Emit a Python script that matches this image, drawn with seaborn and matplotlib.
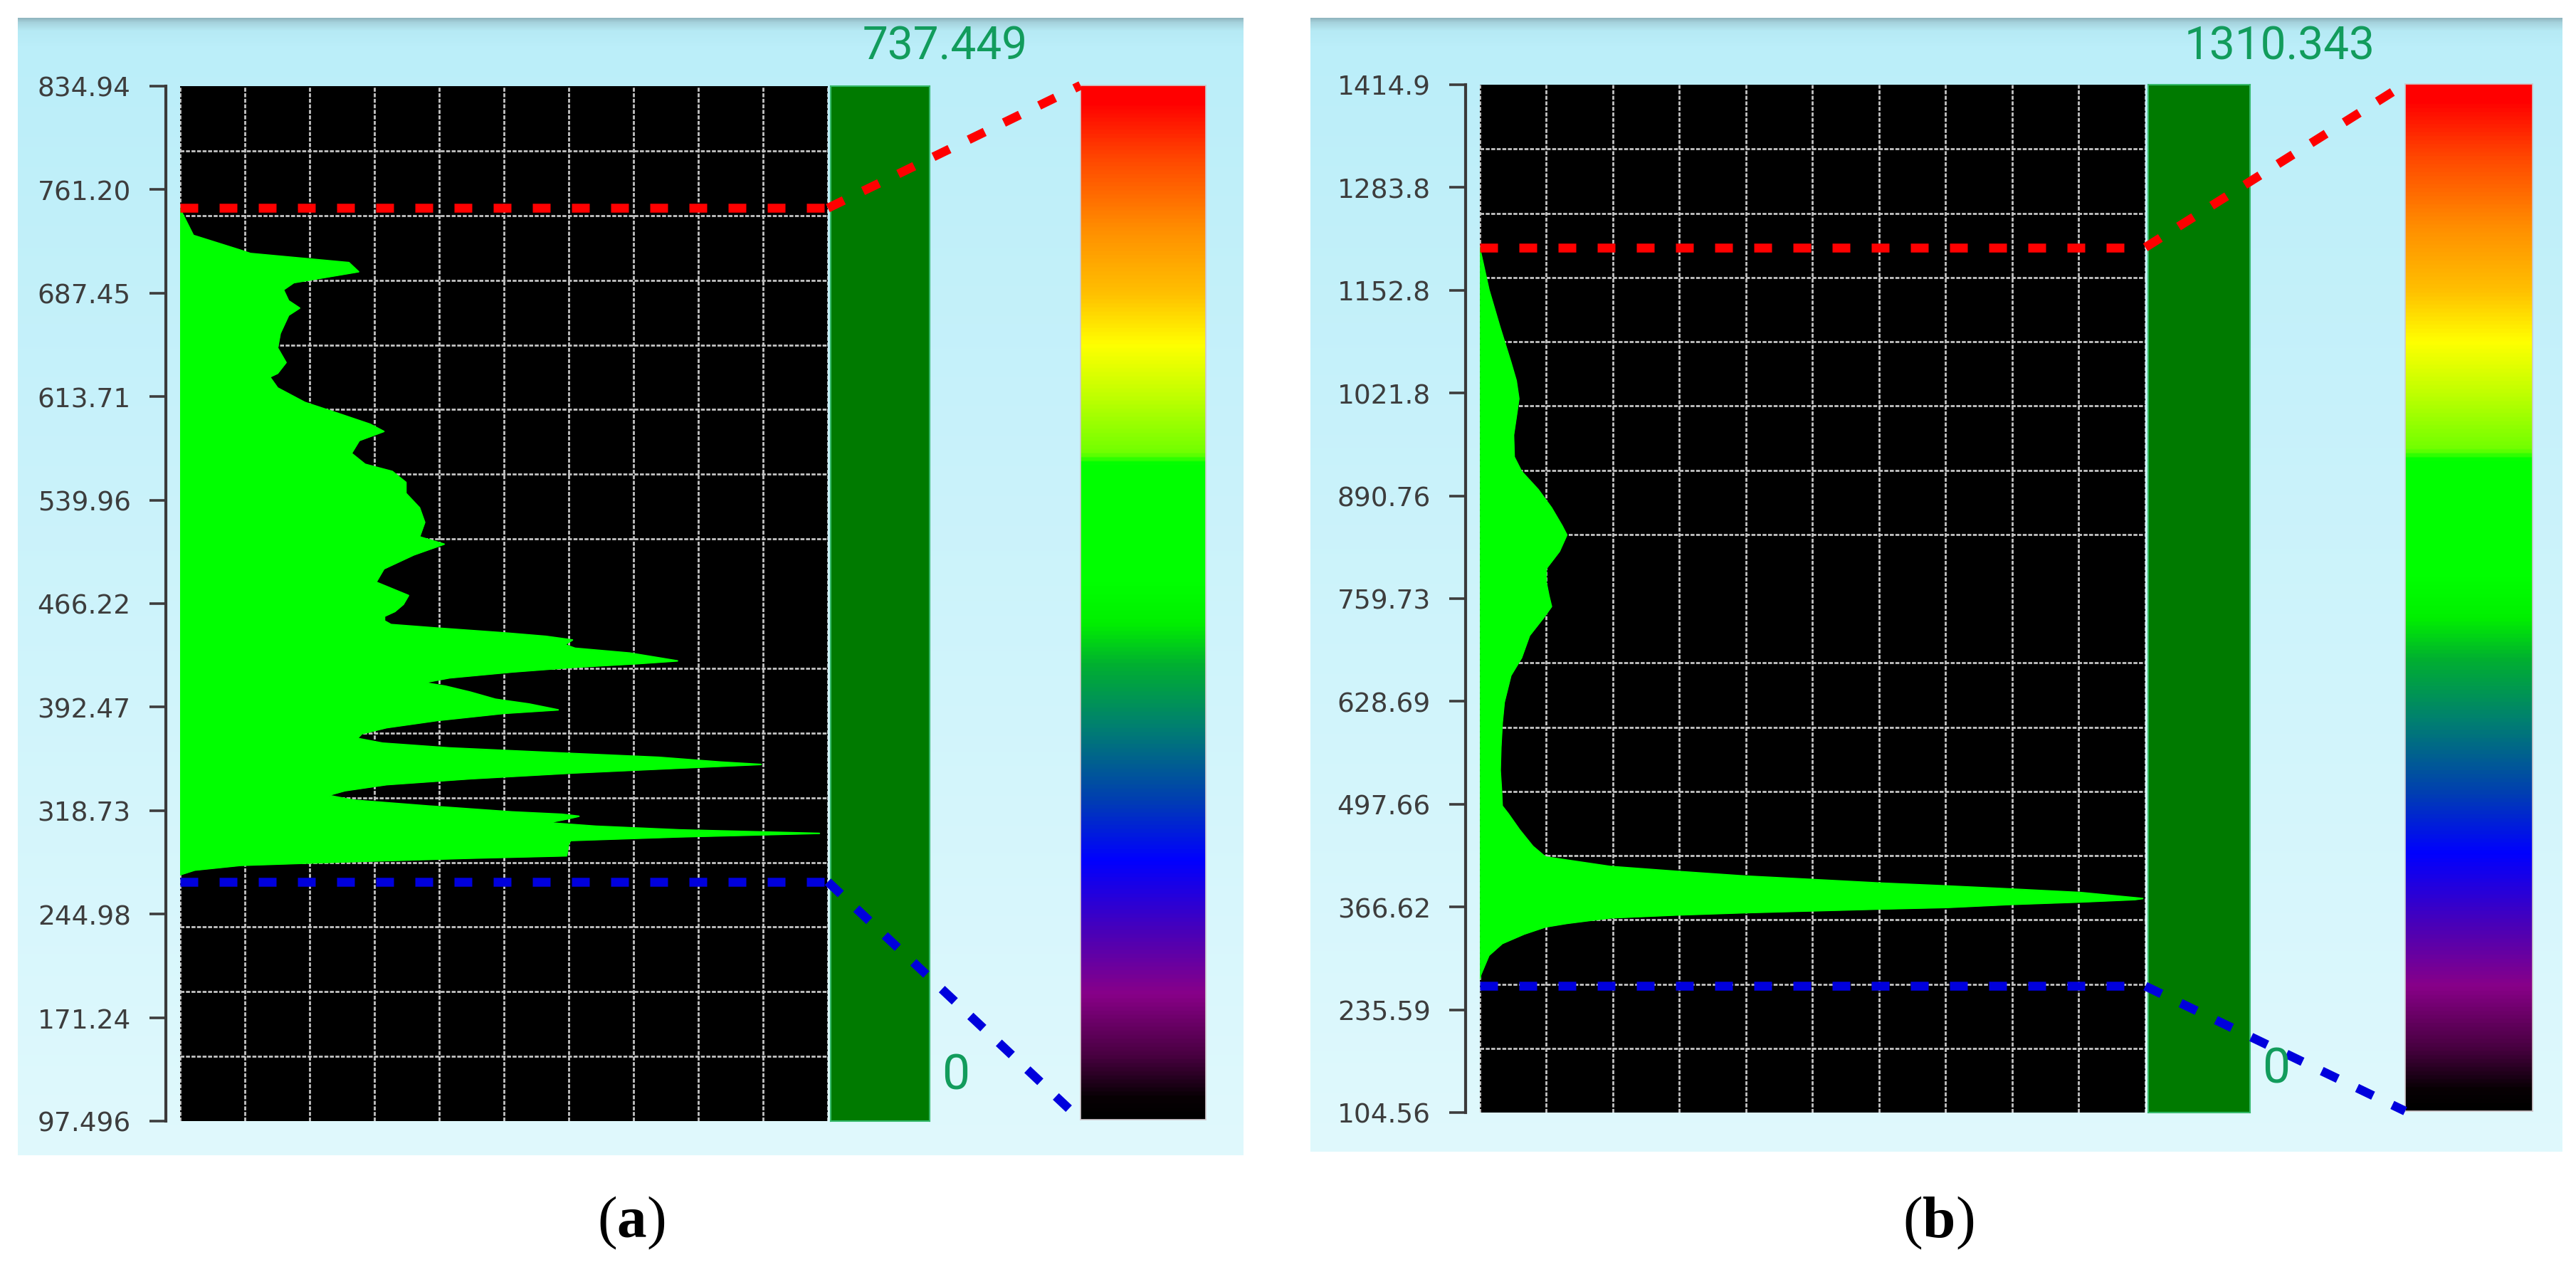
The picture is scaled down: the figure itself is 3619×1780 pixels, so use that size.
import numpy as np
import matplotlib
matplotlib.use("Agg")
import matplotlib.pyplot as plt
import seaborn as sns
from matplotlib.colors import LinearSegmentedColormap, to_rgb
from matplotlib.lines import Line2D

# --- panel (a): profile (depth, green extent 0-100) ---
a_depth = [748.0, 744.2, 728.6, 718.3, 715.7, 709.2, 702.7, 694.9, 689.8, 682.0,
           676.8, 671.7, 658.7, 648.4, 638.0, 630.3, 627.7, 619.9, 609.6, 601.8,
           594.0, 588.9, 582.4, 573.3, 565.5, 560.4, 552.6, 544.8, 534.5, 524.1,
           513.8, 508.6, 500.9, 491.0, 481.5, 472.0, 465.7, 460.6, 457.2, 453.9,
           451.3, 448.8, 445.4, 442.9, 440.3, 437.0, 434.4, 431.0, 427.6, 425.4,
           423.4, 420.9, 417.5, 413.3, 409.9, 407.4, 403.2, 398.1, 394.7, 390.5,
           388.0, 382.9, 377.8, 373.5, 370.2, 366.8, 363.4, 360.0, 356.7, 353.3,
           351.6, 349.0, 345.6, 341.4, 337.2, 332.9, 329.6, 326.2, 322.0, 317.8,
           316.1, 314.7, 312.7, 310.1, 307.6, 305.0, 302.5, 300.0, 297.4, 294.9,
           286.5, 284.8, 282.2, 279.7, 276.3, 272.9]
a_count = [0.0, 0.4, 2.1, 9.2, 10.9, 26.1, 27.6, 17.6, 16.0, 16.8,
           18.5, 16.8, 15.5, 15.1, 16.4, 15.1, 13.9, 15.1, 19.3, 24.4,
           29.4, 31.5, 27.7, 26.5, 28.6, 32.8, 34.9, 34.9, 37.0, 37.8,
           37.0, 40.8, 36.1, 31.5, 30.3, 35.3, 34.5, 33.2, 31.6, 31.6,
           32.6, 39.7, 50.0, 56.5, 60.6, 59.4, 61.0, 69.4, 73.9, 76.8,
           70.6, 61.0, 51.3, 41.6, 37.7, 41.0, 44.8, 48.7, 53.9, 58.4,
           50.0, 39.7, 31.9, 28.1, 27.4, 31.3, 41.6, 57.7, 73.9, 83.5,
           89.7, 77.1, 61.0, 44.8, 31.9, 25.5, 22.9, 26.8, 38.4, 51.3,
           59.0, 61.6, 59.7, 56.8, 64.2, 77.1, 98.7, 77.1, 60.3, 60.0,
           59.7, 44.8, 25.5, 9.4, 2.3, 0.0]
a_ticks = [834.94, 761.20, 687.45, 613.71, 539.96, 466.22, 392.47, 318.73,
           244.98, 171.24, 97.496]
a_tick_labels = ["834.94", "761.20", "687.45", "613.71", "539.96", "466.22",
                 "392.47", "318.73", "244.98", "171.24", "97.496"]
a_upper = 748.0
a_lower = 268.0
a_max_text = "737.449"
a_min_text = "0"

# --- panel (b) ---
b_depth = [1207.5, 1199.8, 1153.6, 1107.3, 1061.0, 1037.7, 1014.6, 991.4, 968.3,
           940.4, 921.9, 898.8, 875.6, 852.5, 840.9, 820.1, 797.9, 780.8, 763.8,
           749.6, 735.4, 712.7, 684.3, 661.8, 627.6, 601.3, 570.8, 540.8, 514.0,
           495.4, 485.6, 465.1, 444.0, 430.4, 418.3, 412.2, 406.1, 401.6, 397.1,
           393.4, 389.5, 385.0, 378.4, 377.4, 376.0, 373.0, 369.9, 366.0, 364.0,
           361.7, 359.3, 356.3, 352.7, 345.7, 341.2, 332.1, 320.0, 304.9, 280.6,
           274.6]
b_count = [0.0, 0.2, 1.4, 3.0, 4.7, 5.5, 5.9, 5.5, 5.1,
           5.2, 6.3, 8.8, 10.8, 12.4, 13.1, 12.0, 10.0, 10.0, 10.4,
           10.8, 9.6, 7.5, 6.3, 4.7, 3.7, 3.4, 3.2, 3.1, 3.3,
           3.4, 4.3, 6.0, 8.0, 9.9, 19.6, 29.3, 39.7, 50.1, 60.1,
           70.2, 79.9, 90.3, 98.4, 99.6, 98.4, 90.3, 79.9, 70.2, 60.1,
           50.1, 39.7, 29.3, 19.6, 13.1, 9.9, 6.7, 3.4, 1.4, 0.2,
           0.0]
b_ticks = [1414.9, 1283.8, 1152.8, 1021.8, 890.76, 759.73, 628.69, 497.66,
           366.62, 235.59, 104.56]
b_tick_labels = ["1414.9", "1283.8", "1152.8", "1021.8", "890.76", "759.73",
                 "628.69", "497.66", "366.62", "235.59", "104.56"]
b_upper = 1207.5
b_lower = 265.7
b_max_text = "1310.343"
b_min_text = "0"

# colour scale stops, bottom (0) to top (1)
scale_pos = [0.0, 0.02, 0.06, 0.12, 0.18, 0.25, 0.31, 0.38, 0.44, 0.48, 0.52,
             0.635, 0.645, 0.70, 0.75, 0.80, 0.86, 0.93, 0.985, 1.0]
scale_colors = ["#000000", "#080004", "#480040", "#880088", "#4a00b8", "#0000ff",
                "#0040b0", "#008070", "#00b030", "#00f000", "#00ff00",
                "#00ff00", "#70ff00", "#c0ff00", "#ffff00", "#ffc000",
                "#ff9000", "#ff4800", "#ff0000", "#ff0000"]

W, H, DPI = 3619, 1781, 100

a_layout = dict(box=(25, 26, 1747, 1624), plot=(252.5, 122, 1163, 1576),
                bar=(1167, 122, 1306, 1576), cbar=(1518, 121, 1694, 1574),
                top_text=(1328, 66), zero_text=(1343, 1512), caption=(887, 1718),
                letter="a")
b_layout = dict(box=(1841, 26, 3600, 1619), plot=(2078.6, 120, 3014, 1564),
                bar=(3018, 120, 3160.5, 1564), cbar=(3379, 119, 3558, 1562),
                top_text=(3203, 66), zero_text=(3198, 1503), caption=(2723, 1718),
                letter="b")

LABEL_GREEN = "#129c5c"
GRID = dict(color="#c4c4c4", lw=2.0, linestyle=(0, (2.0, 0.8)))
DASH = dict(lw=9, dashes=(2.0, 2.4), dash_capstyle="butt", solid_capstyle="butt")


def frac(x0, y0, x1, y1):
    return [x0 / W, 1 - y1 / H, (x1 - x0) / W, (y1 - y0) / H]


def box_gradient(height_px):
    # light blue panel background, slightly darker strip at the top
    rows = np.arange(int(height_px))
    pos = [0, 6, 18, 40, height_px]
    cols = [to_rgb(c) for c in ["#8fb4be", "#a5d2dc", "#b6eaf5", "#bbeef9", "#e0f9fd"]]
    img = np.zeros((len(rows), 1, 3))
    for ch in range(3):
        img[:, 0, ch] = np.interp(rows, pos, [c[ch] for c in cols])
    return img


def draw_panel(fig, depth, count, ticks, tick_labels, upper, lower,
               max_text, min_text, lay, cmap):
    bx = lay["box"]
    ax_bg = fig.add_axes(frac(*bx), zorder=0)
    ax_bg.imshow(box_gradient(bx[3] - bx[1]), aspect="auto", extent=(0, 1, 0, 1))
    ax_bg.axis("off")

    # main profile
    ax = fig.add_axes(frac(*lay["plot"]), zorder=1)
    ax.set_facecolor("black")
    ax.fill_betweenx(depth, 0, count, color="#00ff00", lw=0, zorder=2)
    sns.lineplot(x=count, y=depth, orient="y", sort=False, estimator=None,
                 color="#00ff00", lw=1.5, ax=ax, zorder=3)
    ymin, ymax = ticks[-1], ticks[0]
    ax.set_xlim(0, 100)
    ax.set_ylim(ymin, ymax)
    ax.set_xlabel("")
    ax.set_ylabel("")

    ax.set_xticks(np.arange(0, 101, 10))
    ax.set_xticklabels([])
    ax.set_yticks(ticks)
    ax.set_yticklabels(tick_labels)
    ax.set_yticks(np.linspace(ymin, ymax, 17), minor=True)
    ax.tick_params(axis="x", length=0, bottom=False)
    ax.tick_params(axis="y", which="major", left=True, length=16.5, width=2.6,
                   pad=19, labelsize=27, colors="#3d3d3d", direction="out")
    ax.tick_params(axis="y", which="minor", left=False, length=0)
    ax.grid(False)
    ax.grid(True, axis="x", which="major", zorder=1, **GRID)
    ax.grid(True, axis="y", which="minor", zorder=1, **GRID)
    ax.set_axisbelow(True)
    for side in ("top", "right", "bottom"):
        ax.spines[side].set_visible(False)
    ax.spines["left"].set_position(("outward", 14))
    ax.spines["left"].set_color("#3a3a3a")
    ax.spines["left"].set_linewidth(3)

    ax.axhline(upper, color="#ff0000", zorder=4, **DASH)
    ax.axhline(lower, color="#0000dd", zorder=4, **DASH)

    # dark green bar
    ax_bar = fig.add_axes(frac(*lay["bar"]), zorder=1)
    ax_bar.set_facecolor("#007a00")
    ax_bar.set_xticks([])
    ax_bar.set_yticks([])
    for s in ax_bar.spines.values():
        s.set_color("#35b86a")
        s.set_linewidth(1.5)

    # colour scale
    ax_c = fig.add_axes(frac(*lay["cbar"]), zorder=1)
    ax_c.imshow(np.linspace(0, 1, 512)[:, None], cmap=cmap, aspect="auto",
                origin="lower", extent=(0, 1, 0, 1))
    ax_c.set_xticks([])
    ax_c.set_yticks([])
    for s in ax_c.spines.values():
        s.set_color("#d0c8cc")
        s.set_linewidth(1.2)

    # dashed links from the threshold lines to the ends of the colour scale
    p = frac(*lay["plot"])
    c = frac(*lay["cbar"])
    x_right = p[0] + p[2]
    for val, col, y_end in ((upper, "#ff0000", c[1] + c[3]),
                            (lower, "#0000dd", c[1])):
        y0 = p[1] + (val - ymin) / (ymax - ymin) * p[3]
        fig.add_artist(Line2D([x_right, c[0]], [y0, y_end], transform=fig.transFigure,
                              color=col, zorder=6, **DASH))

    tx, ty = lay["top_text"]
    fig.text(tx / W, 1 - ty / H, max_text, ha="center", va="center",
             fontsize=46, color=LABEL_GREEN, family=["Roboto", "DejaVu Sans"], zorder=7)
    zx, zy = lay["zero_text"]
    fig.text(zx / W, 1 - zy / H, min_text, ha="center", va="center",
             fontsize=50, color=LABEL_GREEN, family=["Roboto", "DejaVu Sans"],
             zorder=7)
    cx, cy = lay["caption"]
    fig.text(cx / W, 1 - cy / H, r"($\mathbf{%s}$)" % lay["letter"], ha="center",
             va="center", fontsize=60, family=["Liberation Serif", "DejaVu Serif"],
             color="black")


def main():
    sns.set_theme(style="white")
    plt.rcParams["font.family"] = ["DejaVu Sans"]
    plt.rcParams["mathtext.fontset"] = "custom"
    plt.rcParams["mathtext.rm"] = "Liberation Serif"
    plt.rcParams["mathtext.bf"] = "Liberation Serif:bold"

    cmap = LinearSegmentedColormap.from_list("scale", list(zip(scale_pos, scale_colors)))

    fig = plt.figure(figsize=(W / DPI, H / DPI), dpi=DPI, facecolor="white")
    draw_panel(fig, a_depth, a_count, a_ticks, a_tick_labels, a_upper, a_lower,
               a_max_text, a_min_text, a_layout, cmap)
    draw_panel(fig, b_depth, b_count, b_ticks, b_tick_labels, b_upper, b_lower,
               b_max_text, b_min_text, b_layout, cmap)
    fig.savefig("out.png", dpi=DPI, facecolor="white")
    plt.close(fig)


if __name__ == "__main__":
    main()
